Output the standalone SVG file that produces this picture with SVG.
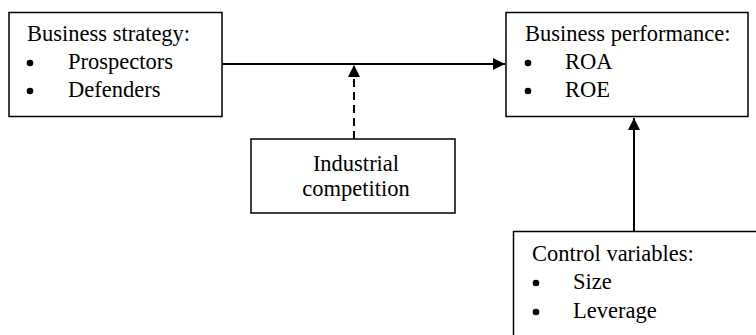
<svg xmlns="http://www.w3.org/2000/svg" width="756" height="335" viewBox="0 0 756 335">
<defs>
<style>
.box{fill:#fff;stroke:#000;stroke-width:1.5}
.t{font-family:"Liberation Serif","Times New Roman",serif;font-size:22.5px;fill:#000}
.c{text-anchor:middle}
.dot{fill:#000}
.ln{stroke:#000;stroke-width:2;fill:none}
.dash{stroke-dasharray:8 5}
</style>
<marker id="ah" viewBox="0 0 12 12" refX="12" refY="6" markerWidth="12" markerHeight="12" markerUnits="userSpaceOnUse" orient="auto">
<path d="M0,0 L12,6 L0,12 Z" fill="#000"/>
</marker>
</defs>
<rect width="756" height="335" fill="#fff"/>
<g id="connectors">
<line class="ln" x1="222" y1="64" x2="505" y2="64" marker-end="url(#ah)"/>
<line class="ln dash" x1="354" y1="139" x2="354" y2="65" marker-end="url(#ah)"/>
<line class="ln" x1="634" y1="231" x2="634" y2="118" marker-end="url(#ah)"/>
</g>
<g id="strategy">
<rect class="box" x="9" y="12.5" width="213" height="104"/>
<text class="t" x="27" y="41">Business strategy:</text>
<circle class="dot" cx="30" cy="63" r="3.3"/><text class="t" x="68" y="69">Prospectors</text>
<circle class="dot" cx="30" cy="91" r="3.3"/><text class="t" x="68" y="97">Defenders</text>
</g>
<g id="performance">
<rect class="box" x="506" y="12.5" width="242" height="104"/>
<text class="t" x="525" y="41">Business performance:</text>
<circle class="dot" cx="528" cy="63" r="3.3"/><text class="t" x="565" y="69">ROA</text>
<circle class="dot" cx="528" cy="91" r="3.3"/><text class="t" x="565" y="97">ROE</text>
</g>
<g id="competition">
<rect class="box" x="251" y="139" width="204" height="74"/>
<text class="t c" x="356" y="171">Industrial</text>
<text class="t c" x="356" y="196">competition</text>
</g>
<g id="control">
<rect class="box" x="513.5" y="231.5" width="260" height="120"/>
<text class="t" x="532" y="261">Control variables:</text>
<circle class="dot" cx="536" cy="283" r="3.3"/><text class="t" x="573" y="289">Size</text>
<circle class="dot" cx="536" cy="312" r="3.3"/><text class="t" x="573" y="318">Leverage</text>
</g>
</svg>
